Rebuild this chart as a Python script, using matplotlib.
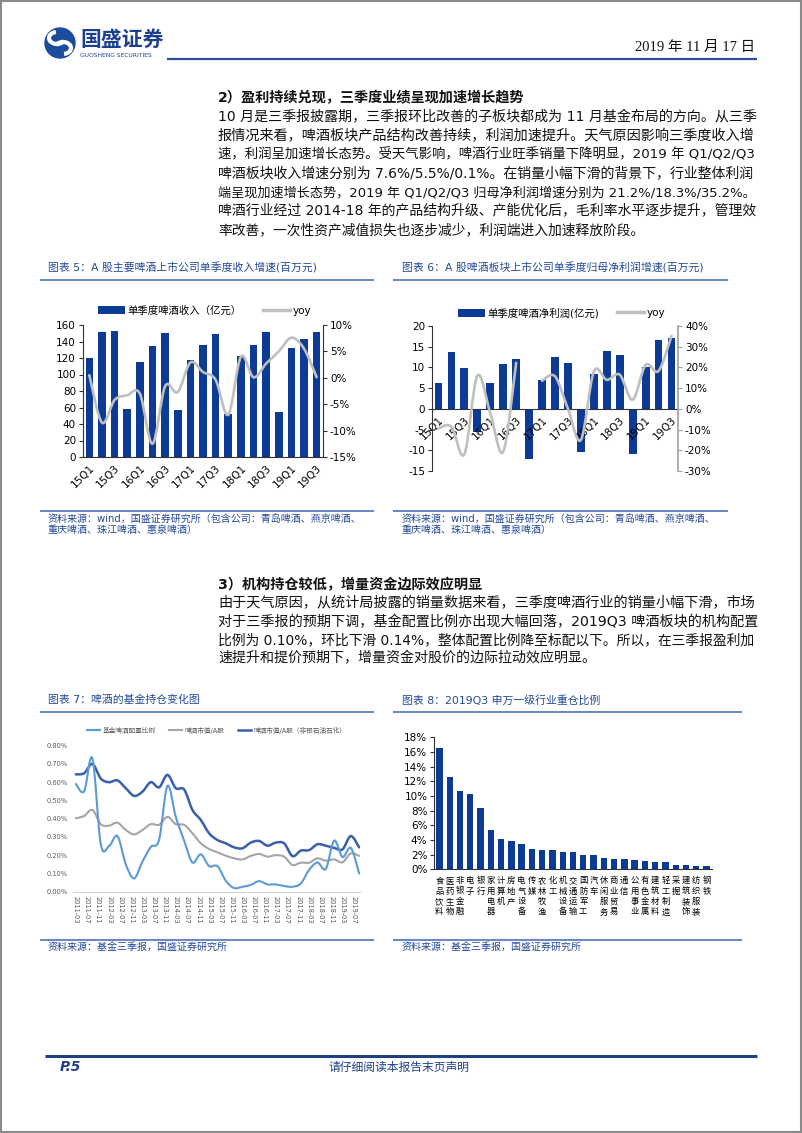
import numpy as np
import matplotlib
matplotlib.use('Agg')
import matplotlib.pyplot as plt
from matplotlib.patches import Rectangle, Circle, PathPatch, Arc
from matplotlib.path import Path
from matplotlib.lines import Line2D
from matplotlib.ticker import FuncFormatter

W, H = 802, 1133
plt.rcParams['font.family'] = ['DejaVu Sans', 'Noto Sans CJK SC']
plt.rcParams['axes.unicode_minus'] = False

# ---------------- data ----------------
quarters = ['15Q1', '15Q2', '15Q3', '15Q4', '16Q1', '16Q2', '16Q3', '16Q4',
            '17Q1', '17Q2', '17Q3', '17Q4', '18Q1', '18Q2', '18Q3', '18Q4',
            '19Q1', '19Q2', '19Q3']
revenue = [120, 152, 153, 58, 115, 134, 150, 57, 118, 136, 149, 52,
           123, 136, 152, 55, 132, 143, 152]
revenue_yoy = [0.5, -8.5, -4.2, -3.3, -3.0, -12.5, -1.6, -2.7, 2.9, 1.1, -0.4, -7.0,
               4.0, 0.1, 2.7, 5.0, 7.6, 5.5, 0.1]
profit = [6.2, 13.7, 9.8, -5.7, 6.2, 10.9, 12.1, -12.1, 7.0, 12.5, 11.1, -10.3,
          8.4, 14.0, 12.9, -10.8, 10.1, 16.7, 17.2]
profit_yoy = [-9.4, -8.6, -21.9, 16.0, -2.0, -20.7, 22.2, np.nan, 13.6, 15.7, 0.0, -15.0,
              18.0, 14.0, 16.5, 4.4, 21.2, 18.3, 35.2]

fund_dates = ['2011-03', '2011-06', '2011-09', '2011-12', '2012-03', '2012-06', '2012-09',
              '2012-12', '2013-03', '2013-06', '2013-09', '2013-12', '2014-03', '2014-06',
              '2014-09', '2014-12', '2015-03', '2015-06', '2015-09', '2015-12', '2016-03',
              '2016-06', '2016-09', '2016-12', '2017-03', '2017-06', '2017-09', '2017-12',
              '2018-03', '2018-06', '2018-09', '2018-12', '2019-03', '2019-06', '2019-09']
fund_ratio = [0.59, 0.55, 0.73, 0.26, 0.25, 0.305, 0.15, 0.073, 0.165, 0.245, 0.285, 0.58,
              0.41, 0.28, 0.16, 0.205, 0.14, 0.14, 0.06, 0.02, 0.027, 0.037, 0.058, 0.04,
              0.04, 0.031, 0.027, 0.045, 0.12, 0.16, 0.125, 0.28, 0.19, 0.24, 0.10]
beer_mv_a = [0.402, 0.415, 0.448, 0.37, 0.362, 0.378, 0.338, 0.314, 0.338, 0.37, 0.367, 0.41,
             0.37, 0.366, 0.32, 0.265, 0.234, 0.216, 0.197, 0.183, 0.177, 0.196, 0.207, 0.192,
             0.20, 0.192, 0.146, 0.159, 0.159, 0.183, 0.17, 0.177, 0.161, 0.21, 0.196]
beer_mv_a_ex = [0.643, 0.649, 0.70, 0.62, 0.60, 0.61, 0.567, 0.525, 0.548, 0.60, 0.572, 0.64,
                0.567, 0.56, 0.448, 0.393, 0.32, 0.283, 0.265, 0.243, 0.238, 0.269, 0.278, 0.252,
                0.269, 0.265, 0.195, 0.225, 0.228, 0.26, 0.252, 0.24, 0.232, 0.305, 0.243]
fund_tick_labels = ['2011-03', '2011-07', '2011-11', '2012-03', '2012-07', '2012-11', '2013-03',
                    '2013-07', '2013-11', '2014-03', '2014-07', '2014-11', '2015-03', '2015-07',
                    '2015-11', '2016-03', '2016-07', '2016-11', '2017-03', '2017-07', '2017-11',
                    '2018-03', '2018-07', '2018-11', '2019-03', '2019-07']
fund_legend = ['基金啤酒配置比例', '啤酒市值/A股', '啤酒市值/A股（非银石油石化）']

industries = ['食品饮料', '医药生物', '非银金融', '电子', '银行', '家用电器', '计算机', '房地产',
              '电气设备', '传媒', '农林牧渔', '化工', '机械设备', '交通运输', '国防军工', '汽车',
              '休闲服务', '商业贸易', '通信', '公用事业', '有色金属', '建筑材料', '轻工制造',
              '采掘', '建筑装饰', '纺织服装', '钢铁']
industry_weight = [16.6, 12.6, 10.7, 10.3, 8.4, 5.4, 4.2, 3.9, 3.45, 2.8, 2.65, 2.65, 2.3, 2.3,
                   1.95, 1.95, 1.55, 1.4, 1.4, 1.27, 1.14, 1.0, 1.0, 0.64, 0.64, 0.41, 0.41]

sec2_title = '2）盈利持续兑现，三季度业绩呈现加速增长趋势'
sec2_lines = [
    '10 月是三季报披露期，三季报环比改善的子板块都成为 11 月基金布局的方向。从三季',
    '报情况来看，啤酒板块产品结构改善持续，利润加速提升。天气原因影响三季度收入增',
    '速，利润呈加速增长态势。受天气影响，啤酒行业旺季销量下降明显，2019 年 Q1/Q2/Q3',
    '啤酒板块收入增速分别为 7.6%/5.5%/0.1%。在销量小幅下滑的背景下，行业整体利润',
    '端呈现加速增长态势，2019 年 Q1/Q2/Q3 归母净利润增速分别为 21.2%/18.3%/35.2%。',
    '啤酒行业经过 2014-18 年的产品结构升级、产能优化后，毛利率水平逐步提升，管理效',
    '率改善，一次性资产减值损失也逐步减少，利润端进入加速释放阶段。',
]
sec3_title = '3）机构持仓较低，增量资金边际效应明显'
sec3_lines = [
    '由于天气原因，从统计局披露的销量数据来看，三季度啤酒行业的销量小幅下滑，市场',
    '对于三季报的预期下调，基金配置比例亦出现大幅回落，2019Q3 啤酒板块的机构配置',
    '比例为 0.10%，环比下滑 0.14%，整体配置比例降至标配以下。所以，在三季报盈利加',
    '速提升和提价预期下，增量资金对股价的边际拉动效应明显。',
]

# ---------------- styles ----------------
BAR = '#0b3b94'
YOY = '#bfbfbf'
TBLUE = '#23499a'
RULE = '#5a7ebf'
AX = '#333333'

fig = plt.figure(figsize=(W / 100, H / 100), dpi=100)
fig.patch.set_facecolor('white')
ov = fig.add_axes([0, 0, 1, 1])
ov.set_xlim(0, W)
ov.set_ylim(H, 0)
ov.axis('off')
ov.set_zorder(-5)


def px_axes(x0, y0, x1, y1):
    a = fig.add_axes([x0 / W, 1 - y1 / H, (x1 - x0) / W, (y1 - y0) / H])
    a.patch.set_alpha(0)
    return a


def smooth_path(xs, ys):
    pts = np.column_stack([xs, ys])
    n = len(pts)
    verts = [pts[0]]
    codes = [Path.MOVETO]
    for i in range(n - 1):
        p0 = pts[i - 1] if i > 0 else pts[i]
        p1 = pts[i]
        p2 = pts[i + 1]
        p3 = pts[i + 2] if i + 2 < n else pts[i + 1]
        verts += [p1 + (p2 - p0) / 6.0, p2 - (p3 - p1) / 6.0, p2]
        codes += [Path.CURVE4] * 3
    return Path(verts, codes)


def smooth_line(ax, xs, ys, **kw):
    xs = np.asarray(xs, float)
    ys = np.asarray(ys, float)
    segs, cur = [], []
    for xv, yv in zip(xs, ys):
        if np.isnan(yv):
            if cur:
                segs.append(cur)
            cur = []
        else:
            cur.append((xv, yv))
    if cur:
        segs.append(cur)
    for seg in segs:
        seg = np.array(seg)
        if len(seg) > 1:
            ax.add_patch(PathPatch(smooth_path(seg[:, 0], seg[:, 1]), fill=False,
                                   capstyle='round', joinstyle='round', **kw))


pct0 = FuncFormatter(lambda v, p: f'{v:.0f}%')

# ---------------- header / footer ----------------
ov.add_patch(Rectangle((0.5, 0.5), W - 1.5, H - 1.5, fill=False, edgecolor='#8a8a8a', lw=1.5))
ov.add_patch(Circle((60, 43), 15, color='#1b4c9e'))
ov.add_patch(Arc((57, 38), 16, 12, theta1=20, theta2=260, color='white', lw=3))
ov.add_patch(Arc((63, 48), 16, 12, theta1=200, theta2=440, color='white', lw=3))
ov.text(80, 40, '国盛证券', fontsize=15, fontweight='bold', color='#1d3f8f', va='center', ha='left')
ov.text(80.5, 55.5, 'GUOSHENG SECURITIES', fontsize=4.3, color='#1d3f8f', va='center', ha='left')
ov.text(755, 47, '2019 年 11 月 17 日', fontsize=10.5, color='#111111', va='center', ha='right',
        family=['Liberation Serif', 'Noto Sans CJK SC'])
ov.plot([167, 757], [59, 59], color='#2a4f9f', lw=1.6, solid_capstyle='butt')

ov.plot([45, 757], [1056, 1056], color='#1f3f80', lw=2.2, solid_capstyle='butt')
ov.text(60, 1067, 'P.5', fontsize=10, fontweight='bold', style='italic', color='#1f3f8f',
        va='center', ha='left')
ov.text(399, 1067, '请仔细阅读本报告末页声明', fontsize=8.5, color='#1f3f8f', va='center', ha='center')

# ---------------- chart titles / sources ----------------
for (x0, x1, xt, yt, yl, title) in [
        (40, 374, 48, 268, 280, '图表 5：A 股主要啤酒上市公司单季度收入增速(百万元)'),
        (393, 728, 402, 268, 280, '图表 6：A 股啤酒板块上市公司单季度归母净利润增速(百万元)'),
        (40, 374, 48, 700, 712, '图表 7：啤酒的基金持仓变化图'),
        (393, 742, 402, 700, 712, '图表 8：2019Q3 申万一级行业重仓比例')]:
    ov.text(xt, yt, title, fontsize=7.8, color=TBLUE, va='center', ha='left')
    ov.plot([x0, x1], [yl, yl], color=RULE, lw=1.3, solid_capstyle='butt')

src1 = '资料来源：wind，国盛证券研究所（包含公司：青岛啤酒、燕京啤酒、'
src2 = '重庆啤酒、珠江啤酒、惠泉啤酒）'
src3 = '资料来源：基金三季报，国盛证券研究所'
for (x0, x1, xt) in [(40, 374, 48), (393, 728, 402)]:
    ov.plot([x0, x1], [511, 511], color=RULE, lw=1.3, solid_capstyle='butt')
    ov.text(xt, 518.5, src1, fontsize=7.2, color=TBLUE, va='center', ha='left')
    ov.text(xt, 530, src2, fontsize=7.2, color=TBLUE, va='center', ha='left')
for (x0, x1, xt) in [(40, 374, 48), (393, 742, 402)]:
    ov.plot([x0, x1], [940, 940], color=RULE, lw=1.3, solid_capstyle='butt')
    ov.text(xt, 947.5, src3, fontsize=7.2, color=TBLUE, va='center', ha='left')

xq = np.arange(len(quarters))

# ---------------- chart 5 ----------------
ax5 = px_axes(83, 325, 323, 457)
bars5 = ax5.bar(xq, revenue, width=0.6, color=BAR, zorder=2)
ax5.set_xlim(-0.5, len(quarters) - 0.5)
ax5.set_ylim(0, 160)
ax5.set_yticks(range(0, 161, 20))
ax5.set_xticks(xq[::2])
ax5.set_xticklabels(quarters[::2], rotation=45, ha='right', va='top', rotation_mode='anchor')
ax5.tick_params(axis='x', length=0, pad=4, labelsize=7.5)
ax5.tick_params(axis='y', length=3, width=0.8, color=AX, labelsize=7.5, pad=2)
for s in ['top', 'right']:
    ax5.spines[s].set_visible(False)
for s in ['left', 'bottom']:
    ax5.spines[s].set_color(AX)
    ax5.spines[s].set_linewidth(0.8)
ax5r = ax5.twinx()
ax5r.set_ylim(-15, 10)
ax5r.set_yticks(range(-15, 11, 5))
ax5r.yaxis.set_major_formatter(pct0)
ax5r.tick_params(axis='y', length=3, width=0.8, color=AX, labelsize=7.5, pad=2)
for s in ['top', 'left', 'bottom']:
    ax5r.spines[s].set_visible(False)
ax5r.spines['right'].set_color(AX)
ax5r.spines['right'].set_linewidth(0.8)
smooth_line(ax5r, xq, revenue_yoy, edgecolor=YOY, lw=1.9, zorder=3)
ax5r.legend([bars5, Line2D([], [], color=YOY, lw=2.5)], ['单季度啤酒收入（亿元）', 'yoy'],
            loc='center left', bbox_to_anchor=(98 / W, 1 - 310.5 / H), bbox_transform=fig.transFigure,
            ncol=2, frameon=False, fontsize=7.5, handlelength=2.6, handleheight=0.8,
            handletextpad=0.25, columnspacing=2.0, borderpad=0, borderaxespad=0)

# ---------------- chart 6 ----------------
ax6 = px_axes(432, 326, 678, 471)
ax6.spines['bottom'].set_position(('data', 0))
bars6 = ax6.bar(xq, profit, width=0.6, color=BAR, zorder=1)
ax6.set_xlim(-0.5, len(quarters) - 0.5)
ax6.set_ylim(-15, 20)
ax6.set_yticks(range(-15, 21, 5))
ax6.set_xticks(xq[::2])
ax6.set_xticklabels(quarters[::2])
ax6.tick_params(axis='x', length=0, pad=4, labelsize=7.5)
ax6.tick_params(axis='y', length=3, width=0.8, color=AX, labelsize=7.5, pad=2)
for s in ['top', 'right']:
    ax6.spines[s].set_visible(False)
for s in ['left', 'bottom']:
    ax6.spines[s].set_color(AX)
    ax6.spines[s].set_linewidth(0.8)
ax6r = ax6.twinx()
ax6r.set_ylim(-30, 40)
ax6r.set_yticks(range(-30, 41, 10))
ax6r.yaxis.set_major_formatter(pct0)
ax6r.tick_params(axis='y', length=3, width=0.8, color='#a0a0a0', labelsize=7.5, pad=2)
for s in ['top', 'left', 'bottom']:
    ax6r.spines[s].set_visible(False)
ax6r.spines['right'].set_color('#a0a0a0')
ax6r.spines['right'].set_linewidth(1.2)
smooth_line(ax6r, xq, profit_yoy, edgecolor=YOY, lw=1.9, zorder=3)
ax6r.legend([bars6, Line2D([], [], color=YOY, lw=2.5)], ['单季度啤酒净利润(亿元)', 'yoy'],
            loc='center left', bbox_to_anchor=(458 / W, 1 - 313 / H), bbox_transform=fig.transFigure,
            ncol=2, frameon=False, fontsize=7.5, handlelength=2.6, handleheight=0.8,
            handletextpad=0.25, columnspacing=1.7, borderpad=0, borderaxespad=0)

# ---------------- chart 7 ----------------
def month_index(s):
    y, m = s.split('-')
    return (int(y) - 2011) * 12 + (int(m) - 3)


xm = np.array([month_index(d) for d in fund_dates], float)
ax7 = px_axes(73, 745.7, 360, 891.7)
ax7.set_xlim(-1, 102.3)
ax7.set_ylim(0, 0.8)
ax7.set_yticks(np.arange(0, 0.81, 0.1))
ax7.yaxis.set_major_formatter(FuncFormatter(lambda v, p: f'{v:.2f}%'))
ax7.set_xticks([month_index(t) for t in fund_tick_labels])
ax7.set_xticklabels(fund_tick_labels, rotation=-90, ha='center', va='top')
ax7.tick_params(axis='both', length=0, labelsize=4.8, labelcolor='#595959')
ax7.tick_params(axis='x', pad=3)
ax7.tick_params(axis='y', pad=4)
for s in ['top', 'right', 'left']:
    ax7.spines[s].set_visible(False)
ax7.spines['bottom'].set_color('#d0d0d0')
ax7.spines['bottom'].set_linewidth(0.8)
C_LB, C_GR, C_DB = '#5b9bd5', '#a5a5a5', '#3a5fad'
smooth_line(ax7, xm, beer_mv_a, edgecolor=C_GR, lw=1.5, zorder=3)
smooth_line(ax7, xm, beer_mv_a_ex, edgecolor=C_DB, lw=1.8, zorder=4)
smooth_line(ax7, xm, fund_ratio, edgecolor=C_LB, lw=1.5, zorder=5)
leg7 = ax7.legend([Line2D([], [], color=C_LB, lw=1.5), Line2D([], [], color=C_GR, lw=1.5),
                   Line2D([], [], color=C_DB, lw=1.8)], fund_legend,
                  loc='center left', bbox_to_anchor=(87 / W, 1 - 730 / H), bbox_transform=fig.transFigure,
                  ncol=3, frameon=False, fontsize=4.8, handlelength=2.0, handletextpad=0.35,
                  columnspacing=2.0, borderpad=0, borderaxespad=0, labelcolor='#595959')

# ---------------- chart 8 ----------------
xi = np.arange(len(industries))
ax8 = px_axes(434.3, 737.3, 711.7, 869.3)
ax8.bar(xi, industry_weight, width=0.62, color=BAR, zorder=2)
ax8.set_xlim(-0.5, len(industries) - 0.5)
ax8.set_ylim(0, 18)
ax8.set_yticks(range(0, 19, 2))
ax8.yaxis.set_major_formatter(pct0)
ax8.set_xticks(xi)
ax8.set_xticklabels(['\n'.join(n) for n in industries], fontsize=6.0, linespacing=1.2,
                    va='top', ha='center')
ax8.tick_params(axis='x', length=0, pad=5)
ax8.tick_params(axis='y', length=3, width=0.8, color=AX, labelsize=7.5, pad=2)
for s in ['top', 'right']:
    ax8.spines[s].set_visible(False)
for s in ['left', 'bottom']:
    ax8.spines[s].set_color(AX)
    ax8.spines[s].set_linewidth(0.8)

# rotate chart 6 labels after spine placement
for lab in ax6.get_xticklabels():
    lab.set_rotation(45)
    lab.set_ha('right')
    lab.set_va('top')
    lab.set_rotation_mode('anchor')

# ---------------- body text (justified lines) ----------------
renderer = fig.canvas.get_renderer()
X0, X1 = 218, 757


def text_block(title, lines, y_title, ys, fs=9.8):
    ov.text(X0, y_title, title, fontsize=10.2, fontweight='bold', color='#111111',
            va='center', ha='left')
    scaled = []
    for i, (s, y) in enumerate(zip(lines, ys)):
        t = ov.text(X0, y, s, fontsize=fs, color='#111111', va='center', ha='left')
        if i < len(lines) - 1:
            w = t.get_window_extent(renderer).width
            f = fs * (X1 - X0) / w
            f = min(max(f, fs * 0.9), fs * 1.1)
            t.set_fontsize(f)
            scaled.append(f)
        else:
            t.set_fontsize(float(np.mean(scaled)) if scaled else fs)


text_block(sec2_title, sec2_lines, 98, [117, 136, 155, 174, 192.5, 211, 230])
text_block(sec3_title, sec3_lines, 585, [603.5, 622, 640, 658])

fig.savefig('out.png', dpi=100, facecolor='white')
